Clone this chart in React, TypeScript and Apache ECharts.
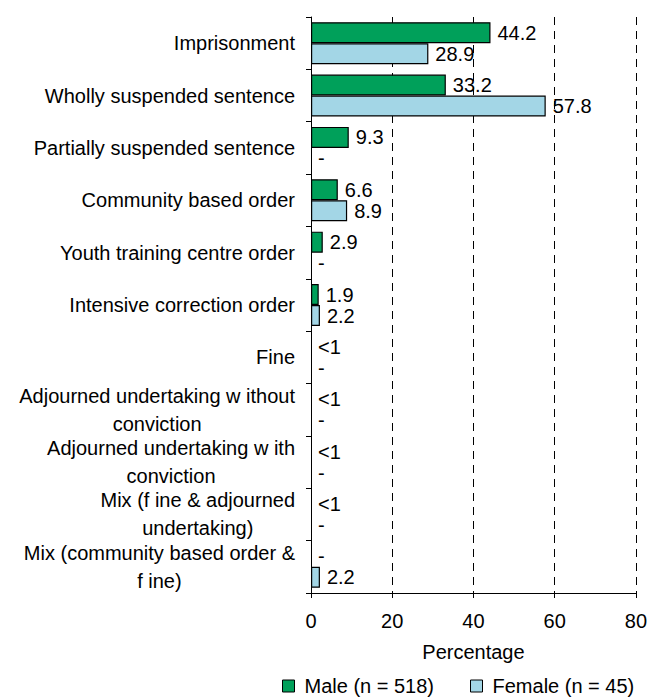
import React, { useEffect, useRef } from "react";
import * as echarts from "echarts";

const categories: string[] = [
  "Imprisonment",
  "Wholly suspended sentence",
  "Partially suspended sentence",
  "Community based order",
  "Youth training centre order",
  "Intensive correction order",
  "Fine",
  "Adjourned undertaking w ithout\nconviction",
  "Adjourned undertaking w ith\nconviction",
  "Mix (f ine & adjourned\nundertaking)",
  "Mix (community based order &\nf ine)",
];

const maleValues: (number | string)[] = [44.2, 33.2, 9.3, 6.6, 2.9, 1.9, "<1", "<1", "<1", "<1", "-"];
const femaleValues: (number | string)[] = [28.9, 57.8, "-", 8.9, "-", 2.2, "-", "-", "-", "-", 2.2];

const seriesNames: string[] = ["Male (n = 518)", "Female (n = 45)"];
const xTicks: number[] = [0, 20, 40, 60, 80];

const FONT = 'Arial, "Liberation Sans", sans-serif';

export default function App() {
  const ref = useRef<HTMLDivElement>(null);
  useEffect(() => {
    if (!ref.current) return;
    const chart = echarts.init(ref.current, null, { renderer: "svg" });
    const colors = ["#00A05A", "#A3D6E6"];
    const mk = (i: number, vals: (number | string)[]) => ({
      name: seriesNames[i],
      type: "bar",
      barWidth: 21,
      barGap: "0%",
      data: vals.map((v) =>
        typeof v === "number"
          ? { value: v, label: { formatter: v.toFixed(1) } }
          : {
              value: 0,
              itemStyle: { color: "rgba(0,0,0,0)", borderWidth: 0 },
              label: { formatter: v },
            }
      ),
      itemStyle: { color: colors[i], borderColor: "#000", borderWidth: 1.2 },
      label: {
        show: true,
        position: "right",
        distance: 7,
        color: "#000",
        fontSize: 20,
        fontFamily: FONT,
      },
    });
    chart.setOption({
      animation: false,
      backgroundColor: "#fff",
      textStyle: { fontFamily: FONT },
      grid: { left: 311, right: 12, top: 17, bottom: 107, containLabel: false },
      legend: {
        data: seriesNames,
        left: 277,
        top: 671,
        itemWidth: 12,
        itemHeight: 12,
        itemGap: 36,
        icon: "rect",
        itemStyle: { borderColor: "#000", borderWidth: 1 },
        textStyle: { color: "#000", fontSize: 20, fontFamily: FONT, padding: [0, 0, 0, 5] },
      },
      xAxis: {
        type: "value",
        min: xTicks[0],
        max: xTicks[xTicks.length - 1],
        interval: 20,
        name: "Percentage",
        nameLocation: "middle",
        nameGap: 49,
        nameTextStyle: { color: "#000", fontSize: 20, fontFamily: FONT },
        axisLine: { show: true, lineStyle: { color: "#000", width: 1 } },
        axisTick: { show: true, length: 5, lineStyle: { color: "#000" } },
        axisLabel: { color: "#000", fontSize: 20, margin: 18, fontFamily: FONT },
        splitLine: { show: true, lineStyle: { color: "#000", type: [8, 6], width: 1 } },
      },
      yAxis: {
        type: "category",
        inverse: true,
        data: categories,
        axisLine: { show: true, lineStyle: { color: "#000", width: 1 } },
        axisTick: { show: true, length: 5, lineStyle: { color: "#000" } },
        axisLabel: {
          interval: 0,
          margin: 16,
          color: "#000",
          fontSize: 20,
          fontFamily: FONT,
          formatter: (v: string) => v.split("\n").map((l) => `{c|${l}}`).join("\n"),
          rich: {
            c: { align: "center", fontSize: 20, lineHeight: 28, color: "#000", fontFamily: FONT },
          },
        },
        splitLine: { show: false },
      },
      series: [mk(0, maleValues), mk(1, femaleValues)],
    });
    return () => chart.dispose();
  }, []);
  return (
    <div
      ref={ref}
      style={{ position: "absolute", left: 0, top: 0, width: 650, height: 700 }}
    />
  );
}
